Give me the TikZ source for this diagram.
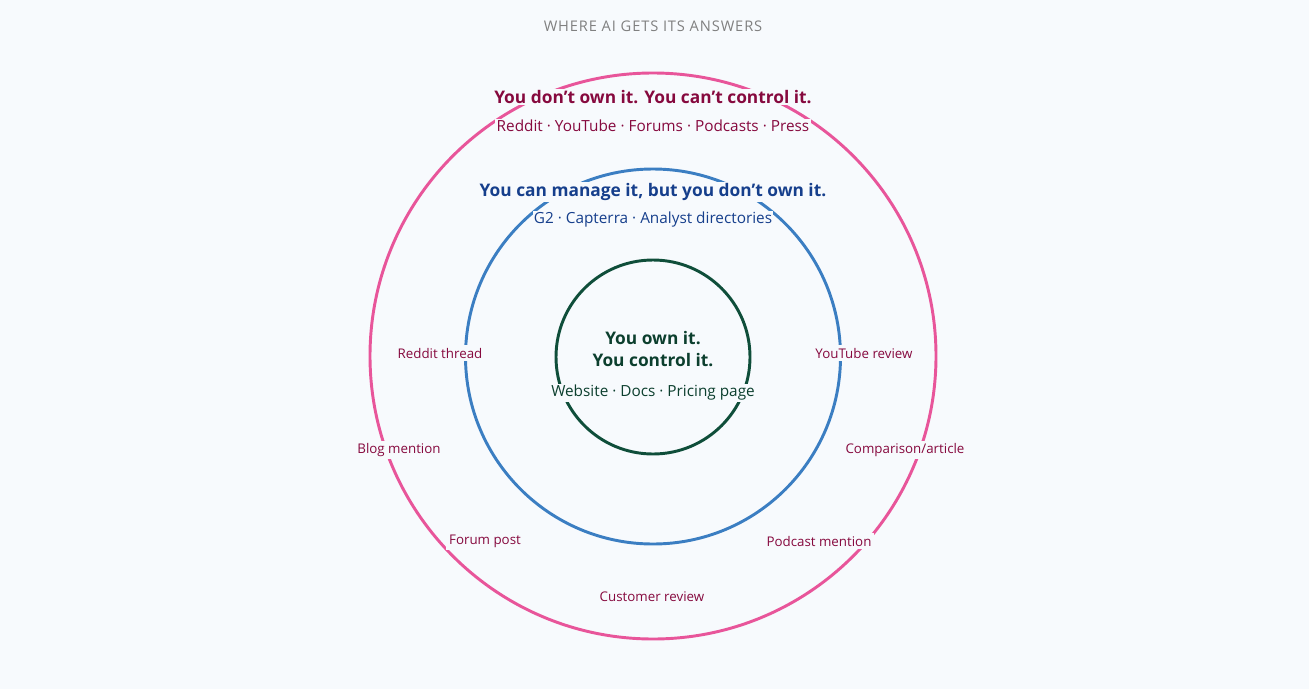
\documentclass[tikz,border=0pt]{standalone}
\usepackage{fontspec}
\setmainfont{Open Sans}
\newfontfamily\spaced[LetterSpace=6]{Open Sans}
\definecolor{bg}{HTML}{F7FAFD}
\definecolor{outerc}{HTML}{E8559A}
\definecolor{midc}{HTML}{3B7EC2}
\definecolor{innerc}{HTML}{0F4E3A}
\definecolor{outert}{HTML}{86093E}
\definecolor{midt}{HTML}{163F8C}
\definecolor{innert}{HTML}{0C3F2E}
\begin{document}
\begin{tikzpicture}[x=0.75pt, y=-0.75pt]
	\tikzstyle{head} = [fill=bg, inner sep=1pt, font=\fontsize{13}{15}\selectfont\bfseries]
	\tikzstyle{sub} = [fill=bg, inner sep=1pt, font=\fontsize{11.5}{13}\selectfont]
	\tikzstyle{tag} = [fill=bg, inner sep=2pt, text=outert, font=\fontsize{10}{11}\selectfont]

	\fill[bg] (0,0) rectangle (1309,689);
	\node[text=gray, font=\spaced\fontsize{11}{12}\selectfont] (title) at (653,26) {WHERE AI GETS ITS ANSWERS};

	% rings
	\draw[outerc, line width=2.2pt] (653,356) circle (283);
	\draw[midc, line width=2.2pt] (653,356.5) circle (187.5);
	\draw[innerc, line width=2.2pt] (653,357) circle (97);

	% outer ring
	\node[head, text=outert] (outhead) at (653,97) {You don’t own it. You can’t control it.};
	\node[sub, text=outert] (outsub) at (653,126) {Reddit · YouTube · Forums · Podcasts · Press};

	% middle ring
	\node[head, text=midt] (midhead) at (653,192) {You can manage it, but you don’t own it.};
	\node[sub, text=midt] (midsub) at (653,220) {G2 · Capterra · Analyst directories};

	% inner ring
	\node[text=innert, align=center, font=\fontsize{13}{17}\selectfont\bfseries] (inhead) at (653,349) {You own it.\\You control it.};
	\node[sub, text=innert] (insub) at (653,393) {Website · Docs · Pricing page};

	% scattered mentions
	\node[tag] (reddit) at (440,353) {Reddit thread};
	\node[tag] (youtube) at (864,353) {YouTube review};
	\node[tag] (blog) at (399,450) {Blog mention};
	\node[tag] (compare) at (905,450) {Comparison/article};
	\node[tag] (forum) at (485,541) {Forum post};
	\node[tag] (podcast) at (819,541) {Podcast mention};
	\node[tag] (customer) at (652,597) {Customer review};
\end{tikzpicture}
\end{document}
